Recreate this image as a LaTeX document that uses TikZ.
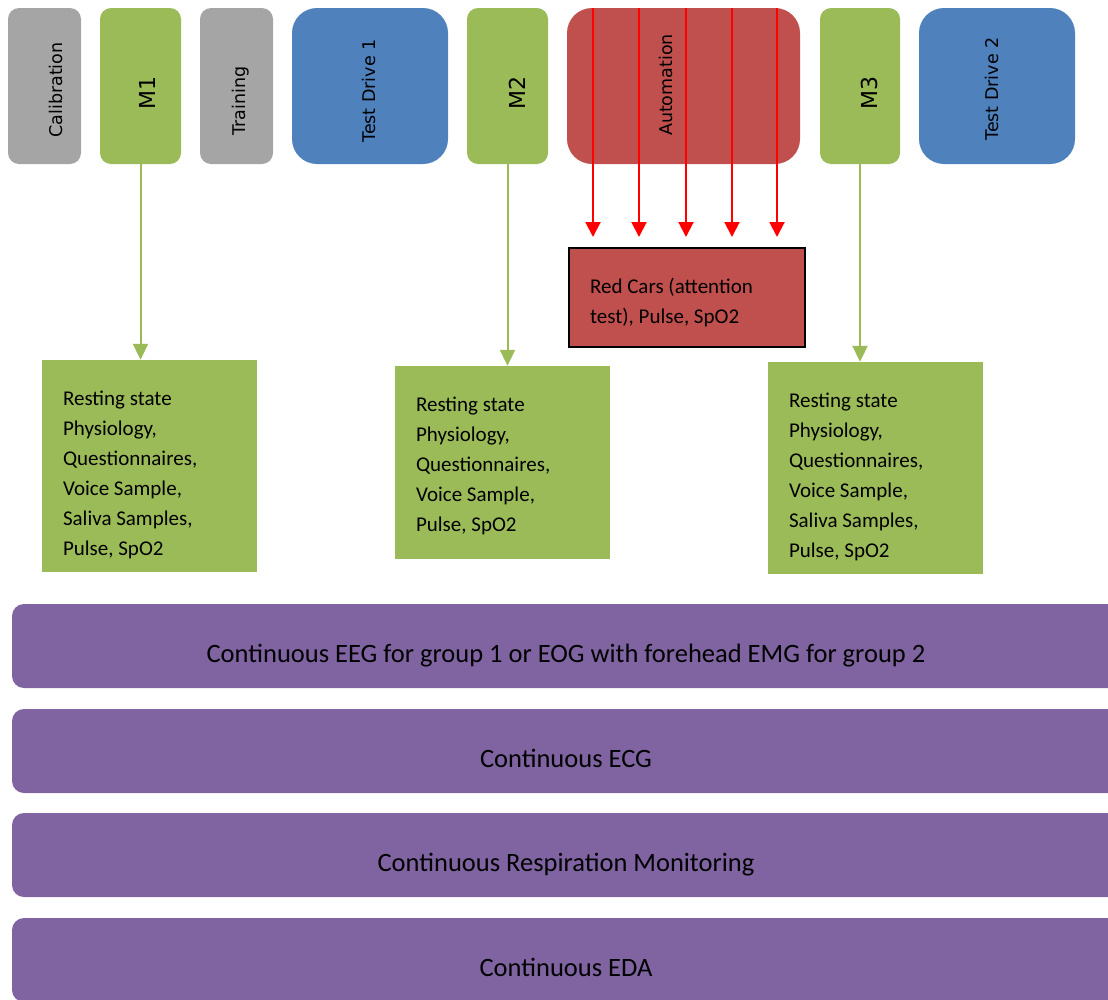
\documentclass[tikz,border=0pt]{standalone}
\usepackage{fontspec}
\setmainfont{Carlito}
\newfontfamily\labelfont{DejaVu Sans}
\usetikzlibrary{arrows.meta}

\definecolor{phasegray}{HTML}{A5A5A5}
\definecolor{phasegreen}{HTML}{9BBB59}
\definecolor{phaseblue}{HTML}{4F81BD}
\definecolor{phasered}{HTML}{C0504D}
\definecolor{streampurple}{HTML}{8064A2}
\definecolor{pulsered}{HTML}{FF0000}

% text block of a measurement box: first baseline 45pt below the top, 30pt line pitch
\newcommand\itemlist[3]{\parbox[c][#1][t]{#2}{\raggedright\fontsize{21}{30}\selectfont\rule{0pt}{45pt}#3}}

\tikzset{
  phase/.style={inner sep=0pt, minimum height=156pt, draw=none},
  narrowphase/.style={phase, rounded corners=11pt},
  widephase/.style={phase, rounded corners=25pt},
  phaselabel/.style={rotate=90, anchor=base, inner sep=0pt, font=\labelfont\fontsize{17.5}{20}\selectfont},
  mlabel/.style={rotate=90, anchor=base, inner sep=0pt, font=\labelfont\fontsize{22}{26}\selectfont},
  measbox/.style={fill=phasegreen, inner sep=0pt, minimum width=215pt},
  stream/.style={fill=streampurple, rounded corners=12pt, inner sep=0pt,
    minimum width=1108pt, minimum height=84pt, text height=32pt, text depth=0pt,
    font=\fontsize{26.5}{30}\selectfont},
  greenarrow/.style={draw=phasegreen, line width=2pt, -{Triangle[width=15pt,length=16pt]}},
  pulsearrow/.style={draw=pulsered, line width=2pt, -{Triangle[width=15pt,length=15pt]}, shorten >=10pt},
}

\begin{document}
\begin{tikzpicture}[x=1pt, y=-1pt]
\useasboundingbox (0,0) rectangle (1108,999);
\clip (0,0) rectangle (1108,999);

% study phases
\node[narrowphase, fill=phasegray,  minimum width=73pt]  (cal)   at (44.5,86) {};
\node[narrowphase, fill=phasegreen, minimum width=81pt]  (m1)    at (140.5,86) {};
\node[narrowphase, fill=phasegray,  minimum width=73pt]  (train) at (236.5,86) {};
\node[widephase,   fill=phaseblue,  minimum width=156pt] (td1)   at (370,86) {};
\node[narrowphase, fill=phasegreen, minimum width=81pt]  (m2)    at (507.5,86) {};
\node[widephase,   fill=phasered,   minimum width=233pt] (auto)  at (683.5,86) {};
\node[narrowphase, fill=phasegreen, minimum width=80pt]  (m3)    at (860,86) {};
\node[widephase,   fill=phaseblue,  minimum width=156pt] (td2)   at (997,86) {};

% phase labels
\node[phaselabel] (cal-t)   at (62,90)  {Calibration};
\node[mlabel]     (m1-t)    at (155,93) {M1};
\node[phaselabel] (train-t) at (245,101) {Training};
\node[phaselabel] (td1-t)   at (375,91) {Test Drive 1};
\node[mlabel]     (m2-t)    at (525,93) {M2};
\node[phaselabel] (auto-t)  at (672,85) {Automation};
\node[mlabel]     (m3-t)    at (877,93) {M3};
\node[phaselabel] (td2-t)   at (998,89) {Test Drive 2};

% measurements
\node[fill=phasered, draw=black, line width=2pt, inner sep=0pt,
      minimum width=236pt, minimum height=99pt] (red) at (687,297.5)
  {\itemlist{99pt}{194pt}{Red Cars (attention\\test), Pulse, SpO2}};

\node[measbox, minimum height=212pt] (g1) at (149.5,466)
  {\itemlist{212pt}{173pt}{Resting state\\Physiology,\\Questionnaires,\\Voice Sample,\\Saliva Samples,\\Pulse, SpO2}};
\node[measbox, minimum height=193pt] (g2) at (502.5,462.5)
  {\itemlist{193pt}{173pt}{Resting state\\Physiology,\\Questionnaires,\\Voice Sample,\\Pulse, SpO2}};
\node[measbox, minimum height=212pt] (g3) at (875.5,468)
  {\itemlist{212pt}{173pt}{Resting state\\Physiology,\\Questionnaires,\\Voice Sample,\\Saliva Samples,\\Pulse, SpO2}};

% connectors
\draw[greenarrow] (m1.south) -- (m1.south |- g1.north);
\draw[greenarrow] (m2.south) -- (m2.south |- g2.north);
\draw[greenarrow] (m3.south) -- (m3.south |- g3.north);
\foreach \a/\b in {-90.5/-94, -44.5/-48, 2.5/-1, 48.5/45, 93.5/90}
  \draw[pulsearrow] ([xshift=\a pt]auto.north) -- ([xshift=\b pt]red.north);

% continuous recordings
\node[stream] (eeg)  at (566,646) {Continuous EEG for group 1 or EOG with forehead EMG for group 2};
\node[stream] (ecg)  at (566,751) {Continuous ECG};
\node[stream] (resp) at (566,855) {Continuous Respiration Monitoring};
\node[stream] (eda)  at (566,960) {Continuous EDA};
\end{tikzpicture}
\end{document}
